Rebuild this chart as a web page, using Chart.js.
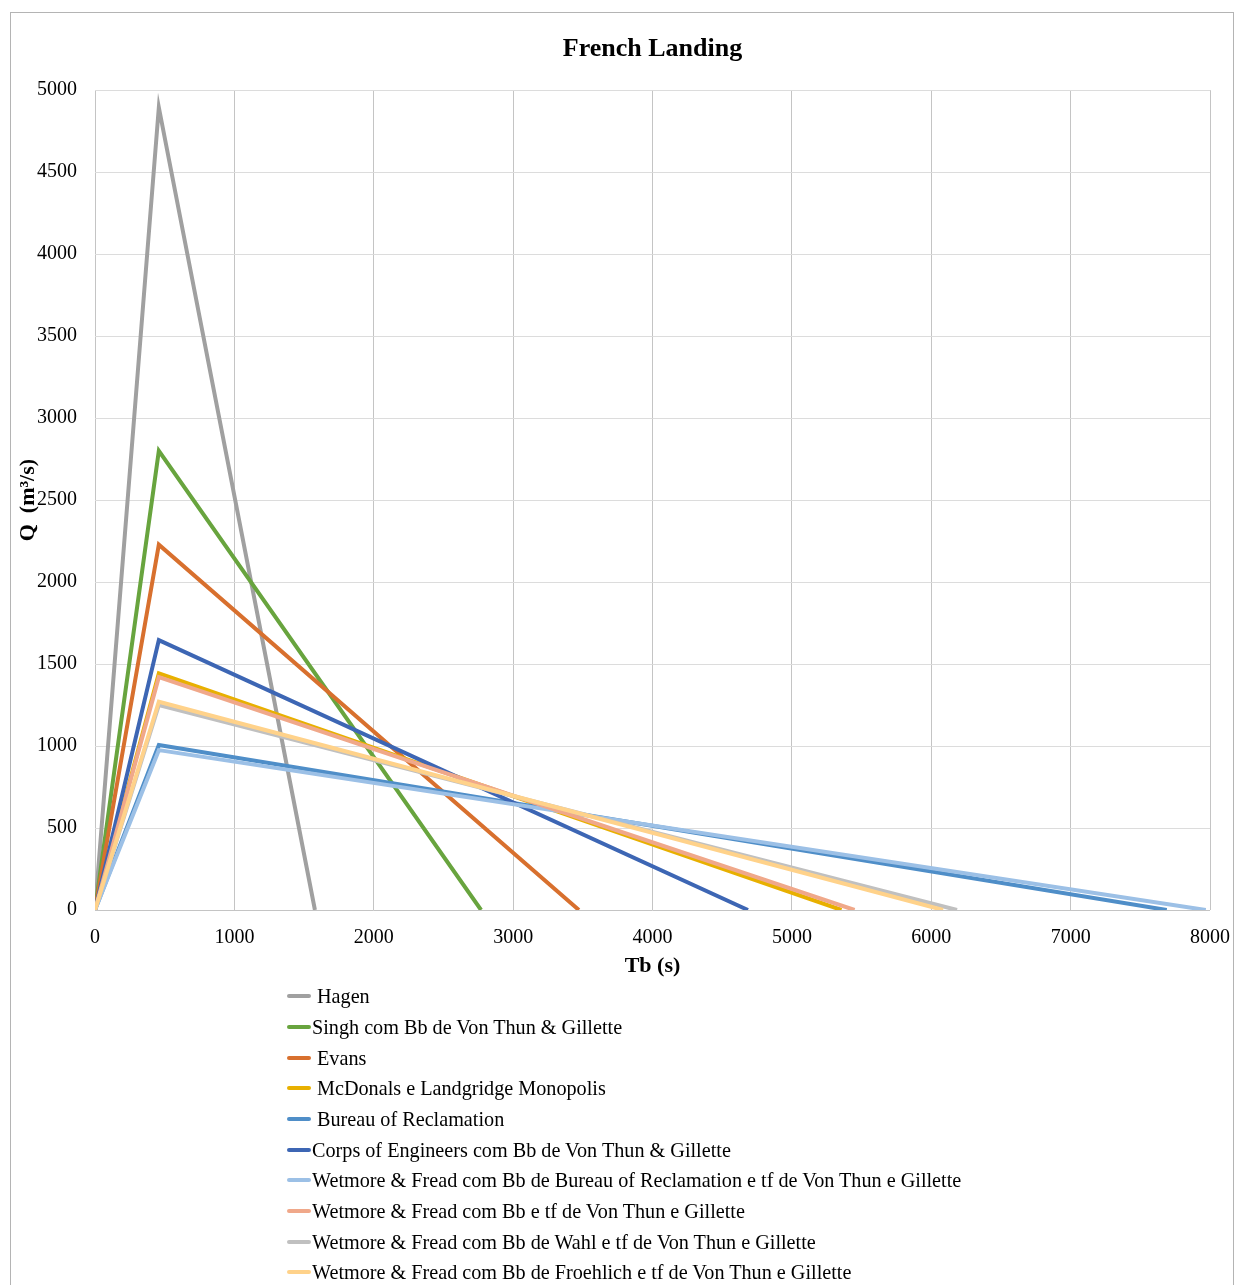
<!DOCTYPE html>
<html>
<head>
<meta charset="utf-8">
<script src="https://cdn.jsdelivr.net/npm/chart.js@4/dist/chart.umd.min.js"></script>
<style>
  html, body { margin: 0; padding: 0; background: #fff; }
  #wrap { position: relative; width: 1235px; height: 1285px; overflow: hidden; }
  #c { position: absolute; left: 0; top: 0; }
  #legend { position: absolute; left: 287px; top: 981px; font-family: "Liberation Serif", "Times New Roman", serif; font-size: 20.2px; color: #000; }
  .li { height: 30.67px; line-height: 30px; white-space: nowrap; display: flex; align-items: center; }
  .sw { display: inline-block; width: 24px; height: 4px; border-radius: 2px; }
</style>
</head>
<body>
<div id="wrap">
  <canvas id="c" width="1235" height="1285"></canvas>
  <div id="legend"></div>
</div>
<script>
const seriesNames = [
  "Hagen",
  "Singh com Bb de Von Thun & Gillette",
  "Evans",
  "McDonals e Landgridge Monopolis",
  "Bureau of Reclamation",
  "Corps of Engineers com Bb de Von Thun & Gillette",
  "Wetmore & Fread com Bb de Bureau of Reclamation e tf de Von Thun e Gillette",
  "Wetmore & Fread com Bb e tf de Von Thun e Gillette",
  "Wetmore & Fread com Bb de Wahl e tf de Von Thun e Gillette",
  "Wetmore & Fread com Bb de Froehlich e tf de Von Thun e Gillette"
];
const seriesColors = ["#a0a0a0", "#68a43e", "#d8702e", "#e8b000", "#4f8ec8", "#3d66b4", "#9cc0e6", "#f0a88a", "#c0c0c0", "#ffd28a"];
// Triangular hydrographs: start time, peak time, peak discharge, base time
const startT = [0, 0, 0, 0, 0, 0, 0, 0, 0, 0];
const peakT  = [458, 458, 458, 458, 458, 458, 458, 458, 458, 458];
const peakQ  = [4895, 2800, 2228, 1443, 1006, 1646, 975, 1420, 1250, 1270];
const endT   = [1578, 2770, 3472, 5356, 7690, 4685, 7970, 5450, 6185, 6085];
const legendGap = [true, false, true, true, true, false, false, false, false, false];
const xTicks = [0, 1000, 2000, 3000, 4000, 5000, 6000, 7000, 8000];
const yTicks = [0, 500, 1000, 1500, 2000, 2500, 3000, 3500, 4000, 4500, 5000];

const datasets = seriesNames.map((name, i) => ({
  label: name,
  data: [{x: startT[i], y: 0}, {x: peakT[i], y: peakQ[i]}, {x: endT[i], y: 0}],
  borderColor: seriesColors[i],
  backgroundColor: seriesColors[i],
  borderWidth: 4,
  pointRadius: 0,
  tension: 0,
  fill: false,
  order: seriesNames.length - i
}));

const frame = {
  id: 'frame',
  beforeDraw(chart) {
    const ctx = chart.ctx;
    ctx.save();
    ctx.fillStyle = '#fff';
    ctx.fillRect(0, 0, chart.width, chart.height);
    ctx.strokeStyle = '#b4b4b4';
    ctx.lineWidth = 1;
    ctx.strokeRect(10.5, 12.5, 1223, 1290);
    ctx.restore();
  }
};

const serif = "'Liberation Serif', 'Times New Roman', serif";

new Chart(document.getElementById('c'), {
  type: 'line',
  data: { datasets },
  plugins: [frame],
  options: {
    responsive: false,
    animation: false,
    layout: { padding: { left: 12, right: 25, top: 26, bottom: 305 } },
    plugins: {
      legend: { display: false },
      tooltip: { enabled: false },
      title: {
        display: true,
        text: 'French Landing',
        fullSize: false,
        color: '#000',
        font: { family: serif, size: 26, weight: 'bold' },
        padding: { top: 8, bottom: 25 }
      }
    },
    scales: {
      x: {
        type: 'linear',
        min: 0, max: 8000,
        afterBuildTicks(s) { s.ticks = xTicks.map(v => ({ value: v })); },
        afterFit(s) { s.height = 70; s.paddingLeft = 0; s.paddingRight = 0; },
        grid: { color: '#c4c4c4', drawTicks: false, lineWidth: 1 },
        border: { display: false },
        ticks: { color: '#000', font: { family: serif, size: 20 }, padding: 16, maxRotation: 0, callback: (v) => String(v) },
        title: { display: true, text: 'Tb (s)', color: '#000', font: { family: serif, size: 22, weight: 'bold' }, padding: { top: 0, bottom: 0 } }
      },
      y: {
        type: 'linear',
        min: 0, max: 5000,
        afterBuildTicks(s) { s.ticks = yTicks.map(v => ({ value: v })); },
        afterFit(s) { s.width = 83; },
        grid: { color: (c) => (c.tick && c.tick.value === 0) ? '#c4c4c4' : '#dcdcdc', drawTicks: false, lineWidth: 1 },
        border: { display: false },
        ticks: { color: '#000', font: { family: serif, size: 20 }, padding: 18, callback: (v) => String(v) },
        title: { display: true, text: 'Q  (m³/s)', color: '#000', font: { family: serif, size: 22, weight: 'bold' }, padding: { top: 3, bottom: 0 } }
      }
    }
  }
});

const lg = document.getElementById('legend');
seriesNames.forEach((name, i) => {
  const row = document.createElement('div');
  row.className = 'li';
  const sw = document.createElement('span');
  sw.className = 'sw';
  sw.style.background = seriesColors[i];
  const tx = document.createElement('span');
  tx.textContent = name;
  tx.style.marginLeft = legendGap[i] ? '6px' : '1px';
  row.appendChild(sw);
  row.appendChild(tx);
  lg.appendChild(row);
});
</script>
</body>
</html>
